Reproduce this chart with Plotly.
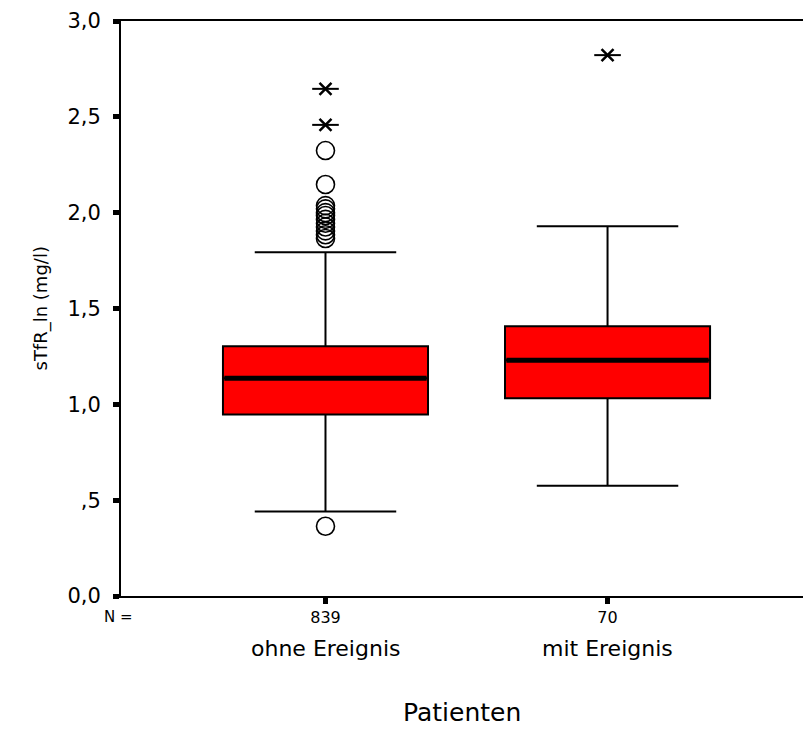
import plotly.graph_objects as go

categories = ["ohne Ereignis", "mit Ereignis"]
n_counts = ["839", "70"]
q1 = [0.947, 1.032]
median = [1.136, 1.230]
q3 = [1.303, 1.408]
lower_fence = [0.441, 0.575]
upper_fence = [1.794, 1.929]
# outliers (circles) and extremes (stars) per group
outliers = [
    [0.364, 2.324, 2.147, 2.037, 2.02, 2.00, 1.985, 1.965, 1.945, 1.925, 1.905, 1.885, 1.865],
    [],
]
extremes = [
    [2.646, 2.458],
    [2.822],
]
y_tickvals = [0, 0.5, 1.0, 1.5, 2.0, 2.5, 3.0]
y_ticktext = ["0,0", ",5", "1,0", "1,5", "2,0", "2,5", "3,0"]

BOX_W = 0.727
FONT = "DejaVu Sans, Liberation Sans, Arial, sans-serif"

fig = go.Figure()
for i, cat in enumerate(categories):
    fig.add_trace(go.Box(
        x=[i], q1=[q1[i]], median=[median[i]], q3=[q3[i]],
        lowerfence=[lower_fence[i]], upperfence=[upper_fence[i]],
        width=BOX_W, whiskerwidth=0.69, boxpoints=False,
        fillcolor="#FF0000", line=dict(color="black", width=2),
        showlegend=False, hoverinfo="skip", name=cat,
    ))
    # thick median bar
    fig.add_trace(go.Scatter(
        x=[i - BOX_W / 2 + 0.005, i + BOX_W / 2 - 0.005], y=[median[i], median[i]],
        mode="lines", line=dict(color="black", width=5),
        showlegend=False, hoverinfo="skip",
    ))
    if outliers[i]:
        fig.add_trace(go.Scatter(
            x=[i] * len(outliers[i]), y=outliers[i], mode="markers",
            marker=dict(symbol="circle-open", size=18, color="black",
                        line=dict(width=1.6, color="black")),
            showlegend=False, hoverinfo="skip",
        ))
    if extremes[i]:
        fig.add_trace(go.Scatter(
            x=[i] * len(extremes[i]), y=extremes[i], mode="markers",
            marker=dict(symbol="x-thin-open", size=12, color="black",
                        line=dict(width=2.5, color="black")),
            showlegend=False, hoverinfo="skip",
        ))
        fig.add_trace(go.Scatter(
            x=[i] * len(extremes[i]), y=extremes[i], mode="markers",
            marker=dict(symbol="line-ew-open", size=19, color="black",
                        line=dict(width=2, color="black")),
            showlegend=False, hoverinfo="skip",
        ))

annotations = []
for i, cat in enumerate(categories):
    annotations.append(dict(
        x=i, y=0, xref="x", yref="paper", text=cat, showarrow=False,
        yanchor="middle", xanchor="center", yshift=-52,
        font=dict(family=FONT, size=22, color="black"),
    ))
annotations.append(dict(
    x=0, y=0, xref="paper", yref="paper", text="N =", showarrow=False,
    xanchor="center", yanchor="middle", xshift=-3, yshift=-21,
    font=dict(family=FONT, size=15, color="black"),
))
annotations.append(dict(
    x=0, y=0.5, xref="paper", yref="paper", text="sTfR_ln (mg/l)", showarrow=False,
    xanchor="center", yanchor="middle", xshift=-81, textangle=-90,
    font=dict(family=FONT, size=18, color="black"),
))
annotations.append(dict(
    x=0.5, y=0, xref="paper", yref="paper", text="Patienten", showarrow=False,
    xanchor="center", yanchor="middle", yshift=-116,
    font=dict(family=FONT, size=25, color="black"),
))

fig.update_layout(
    width=803, height=729,
    margin=dict(l=121, r=0, t=21, b=133, pad=0),
    plot_bgcolor="white", paper_bgcolor="white",
    font=dict(family=FONT, color="black"),
    annotations=annotations,
    xaxis=dict(
        range=[-0.725, 1.693], tickvals=[0, 1], ticktext=n_counts,
        showgrid=False, zeroline=False, showline=True, linecolor="black",
        linewidth=2, mirror=True, ticks="outside", ticklen=6, tickwidth=5,
        tickcolor="black", tickfont=dict(family=FONT, size=16, color="black"),
    ),
    yaxis=dict(
        range=[0, 3.0], tickvals=y_tickvals, ticktext=y_ticktext,
        showgrid=False, zeroline=False, showline=True, linecolor="black",
        linewidth=2, ticks="outside", ticklen=6, tickwidth=5, ticklabelstandoff=8,
        tickcolor="black", tickfont=dict(family=FONT, size=21, color="black"),
    ),
)

fig.write_html("out.html")
